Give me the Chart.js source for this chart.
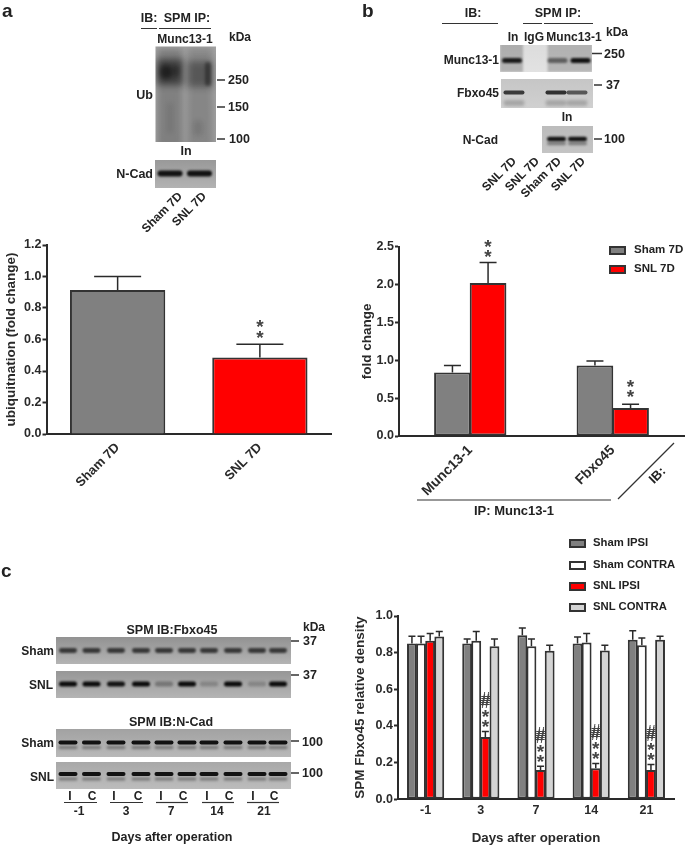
<!DOCTYPE html>
<html>
<head>
<meta charset="utf-8">
<title>Fbxo45 Munc13-1</title>
<script src="https://cdn.jsdelivr.net/npm/chart.js@4"></script>
<style>
  html, body { margin: 0; padding: 0; background: #fff; }
  #page { position: relative; width: 685px; height: 846px; overflow: hidden; font-family: "Liberation Sans", Arial, sans-serif; font-weight: bold; color: #222; filter: blur(0.3px); }
  #page canvas { position: absolute; }
  .lbl { position: absolute; white-space: nowrap; line-height: 1; }
  .swatch { position: absolute; box-sizing: border-box; border: 2px solid #333; }
</style>
</head>
<body>
<div id="page">
  <canvas id="blots" width="685" height="846" style="left:0px;top:0px"></canvas>
  <canvas id="chartA" width="340" height="290" style="left:0px;top:235px"></canvas>
  <canvas id="chartB" width="340" height="290" style="left:345px;top:236px"></canvas>
  <canvas id="chartC" width="340" height="240" style="left:345px;top:606px"></canvas>
</div>
<script>
/* PANEL A */
var categoriesA = ["Sham 7D", "SNL 7D"];
var valuesA = [0.915, 0.485];
var errorTopsA = [1.0, 0.57];
var ticksA = [0, 0.2, 0.4, 0.6, 0.8, 1.0, 1.2];

/* PANEL B */
var categoriesB = ["Munc13-1", "Fbxo45"];
var shamB = [0.84, 0.93];
var shamTopsB = [0.93, 0.99];
var snlB = [2.02, 0.37];
var snlTopsB = [2.29, 0.42];
var ticksB = [0, 0.5, 1.0, 1.5, 2.0, 2.5];

/* PANEL C */
var categoriesC = ["-1", "3", "7", "14", "21"];
var shamIpsi = [0.85, 0.85, 0.895, 0.85, 0.87];
var shamIpsiTops = [0.89, 0.875, 0.935, 0.885, 0.92];
var shamContra = [0.85, 0.865, 0.835, 0.855, 0.84];
var shamContraTops = [0.89, 0.915, 0.875, 0.905, 0.88];
var snlIpsi = [0.865, 0.34, 0.16, 0.17, 0.16];
var snlIpsiTops = [0.905, 0.37, 0.18, 0.195, 0.19];
var snlContra = [0.888, 0.835, 0.81, 0.812, 0.87];
var snlContraTops = [0.915, 0.875, 0.84, 0.84, 0.89];
var ticksC = [0, 0.2, 0.4, 0.6, 0.8, 1.0];

var GRAY = "#808080", RED = "#ff0000", LIGHT = "#d4d4d4", WHITE = "#ffffff", INK = "#2a2a2a";
var FONT = "'Liberation Sans', Arial, sans-serif";

var errorBarPlugin = {
  id: "errorBars",
  afterDatasetsDraw: function (chart, args, opts) {
    var ctx = chart.ctx, y = chart.scales.y;
    ctx.save();
    chart.data.datasets.forEach(function (ds, i) {
      chart.getDatasetMeta(i).data.forEach(function (bar, j) {
        var top = y.getPixelForValue(ds.tops[j]);
        ctx.strokeStyle = INK;
        ctx.lineWidth = 1.5;
        ctx.beginPath();
        ctx.moveTo(bar.x, y.getPixelForValue(ds.data[j]));
        ctx.lineTo(bar.x, top);
        ctx.moveTo(bar.x - opts.cap, top);
        ctx.lineTo(bar.x + opts.cap, top);
        ctx.stroke();
        var marks = ds.marks && ds.marks[j];
        if (!marks) return;
        ctx.fillStyle = "#444";
        ctx.textAlign = "center";
        ctx.textBaseline = "middle";
        marks.forEach(function (m) {
          ctx.font = m.weight + " " + m.size + "px " + FONT;
          ctx.fillText(m.text, bar.x, top - m.up);
        });
      });
    });
    ctx.restore();
  }
};

function fixedTicks(list) {
  return function (scale) {
    scale.ticks = list.map(function (v) { return { value: v }; });
  };
}

function makeChart(id, cfg) {
  return new Chart(document.getElementById(id), {
    type: "bar",
    data: { labels: cfg.labels, datasets: cfg.datasets },
    plugins: [errorBarPlugin],
    options: {
      responsive: false,
      animation: false,
      layout: { padding: cfg.padding },
      plugins: { legend: { display: false }, tooltip: { enabled: false }, errorBars: { cap: cfg.cap } },
      scales: {
        x: {
          afterFit: function (s) { s.height = cfg.xHeight; },
          grid: { drawOnChartArea: false, drawTicks: false },
          border: { color: INK, width: 2 },
          ticks: { autoSkip: false, minRotation: cfg.rotation, maxRotation: cfg.rotation, padding: cfg.xPad, color: INK, font: { family: FONT, weight: "bold", size: cfg.xSize } },
          title: cfg.xTitle ? { display: true, text: cfg.xTitle, color: INK, padding: { top: 0, bottom: 0 }, font: { family: FONT, weight: "bold", size: 13.3 } } : { display: false }
        },
        y: {
          min: 0,
          max: cfg.yTicks[cfg.yTicks.length - 1],
          afterFit: function (s) { s.width = cfg.yWidth; },
          afterBuildTicks: fixedTicks(cfg.yTicks),
          grid: { drawOnChartArea: false, tickLength: 4, tickColor: INK, tickWidth: 2 },
          border: { color: INK, width: 2 },
          ticks: { padding: 1, color: INK, font: { family: FONT, weight: "bold", size: 12.5 }, callback: function (v) { return v.toFixed(1); } },
          title: { display: true, text: cfg.yTitle, color: INK, padding: cfg.yTitlePad, font: { family: FONT, weight: "bold", size: 13.5 } }
        }
      }
    }
  });
}

function barSet(label, values, tops, color, extra) {
  var ds = { label: label, data: values, tops: tops, backgroundColor: color, borderColor: "#333", borderWidth: 2, borderSkipped: false };
  for (var k in extra) ds[k] = extra[k];
  return ds;
}

function twoStars(a, b) {
  return [{ text: "*", size: 19, weight: "bold", up: a }, { text: "*", size: 19, weight: "bold", up: b }];
}
function starsAndHash() {
  return twoStars(4, 14).concat([
    { text: "#", size: 17, weight: "normal", up: 28 }, { text: "#", size: 17, weight: "normal", up: 30 }, { text: "#", size: 17, weight: "normal", up: 32 }
  ]);
}

makeChart("chartA", {
  labels: categoriesA,
  datasets: [{
    label: "Ub", data: valuesA, tops: errorTopsA, marks: [null, twoStars(5, 16)],
    backgroundColor: [GRAY, RED], borderColor: "#333", borderWidth: 2, barPercentage: 0.67, categoryPercentage: 1
  }],
  padding: { top: 10, right: 9, left: 0, bottom: 0 },
  xHeight: 91, yWidth: 46.5, rotation: 45, xPad: 6, xSize: 13, cap: 23.5,
  yTitle: "ubiquitnation (fold change)", yTitlePad: { top: 3, bottom: 0 },
  yTicks: ticksA
});

makeChart("chartB", {
  labels: categoriesB,
  datasets: [
    barSet("Sham 7D", shamB, shamTopsB, GRAY, { barPercentage: 1.03, categoryPercentage: 0.5 }),
    barSet("SNL 7D", snlB, snlTopsB, RED, { barPercentage: 1.03, categoryPercentage: 0.5, marks: [twoStars(5, 15), twoStars(6, 16)] })
  ],
  padding: { top: 10.7, right: 1, left: 0, bottom: 0 },
  xHeight: 90, yWidth: 54, rotation: 45, xPad: 6, xSize: 14, cap: 8.5,
  yTitle: "fold change", yTitlePad: { top: 14, bottom: 0 },
  yTicks: ticksB
});

makeChart("chartC", {
  labels: categoriesC,
  datasets: [
    barSet("Sham IPSI", shamIpsi, shamIpsiTops, GRAY, { barPercentage: 1.08, categoryPercentage: 0.66 }),
    barSet("Sham CONTRA", shamContra, shamContraTops, WHITE, { barPercentage: 1.08, categoryPercentage: 0.66 }),
    barSet("SNL IPSI", snlIpsi, snlIpsiTops, RED, { barPercentage: 1.08, categoryPercentage: 0.66, marks: [null, starsAndHash(), starsAndHash(), starsAndHash(), starsAndHash()] }),
    barSet("SNL CONTRA", snlContra, snlContraTops, LIGHT, { barPercentage: 1.08, categoryPercentage: 0.66 })
  ],
  padding: { top: 10, right: 11, left: 0, bottom: 0 },
  xHeight: 46.7, yWidth: 53, rotation: 0, xPad: 4, xSize: 12.5, cap: 3.5,
  yTitle: "SPM Fbxo45 relative density", yTitlePad: { top: 7, bottom: 0 },
  xTitle: "Days after operation",
  yTicks: ticksC
});

/* HTML labels */
var page = document.getElementById("page");
function txt(s, x, y, size, anchor, rot) {
  var d = document.createElement("div");
  d.className = "lbl";
  d.textContent = s;
  var tx = anchor === "r" ? "-100%" : anchor === "c" ? "-50%" : "0";
  var ox = anchor === "r" ? "100%" : anchor === "c" ? "50%" : "0";
  d.style.left = x + "px";
  d.style.top = y + "px";
  d.style.fontSize = (size || 12) + "px";
  d.style.transformOrigin = ox + " 50%";
  d.style.transform = "translate(" + tx + ",-50%) rotate(" + (rot || 0) + "deg)";
  page.appendChild(d);
}

txt("a", 2, 10, 19, "l"); txt("b", 362, 10, 19, "l"); txt("c", 1, 570, 19, "l");

// panel a blot labels
txt("IB:", 149, 18, 12.5, "c"); txt("SPM IP:", 187, 18, 12.5, "c");
txt("Munc13-1", 185, 39, 12, "c"); txt("kDa", 229, 37, 12, "l");
txt("Ub", 153, 95, 12.5, "r"); txt("In", 186, 151, 12.5, "c"); txt("N-Cad", 153, 174, 12.5, "r");
txt("250", 228, 80, 12.5, "l"); txt("150", 228, 107, 12.5, "l"); txt("100", 229, 139, 12.5, "l");
txt("Sham 7D", 180, 194, 12, "r", -45); txt("SNL 7D", 204, 194, 12, "r", -45);

// panel b blot labels
txt("IB:", 473, 13, 12.5, "c"); txt("SPM IP:", 558, 13, 12.5, "c");
txt("In", 513, 37, 12, "c"); txt("IgG", 534, 37, 12, "c"); txt("Munc13-1", 574, 37, 12, "c"); txt("kDa", 606, 32, 12, "l");
txt("Munc13-1", 499, 60, 12, "r"); txt("Fbxo45", 499, 93, 12, "r"); txt("N-Cad", 498, 140, 12, "r"); txt("In", 567, 117, 12, "c");
txt("250", 604, 54, 12.5, "l"); txt("37", 606, 85, 12.5, "l"); txt("100", 604, 139, 12.5, "l");
txt("SNL 7D", 514, 159, 12, "r", -45); txt("SNL 7D", 537, 159, 12, "r", -45);
txt("Sham 7D", 559, 159, 12, "r", -45); txt("SNL 7D", 583, 159, 12, "r", -45);
txt("IP: Munc13-1", 514, 510, 13, "c"); txt("IB:", 657, 475, 13, "c", -45);

// panel c blot labels
txt("SPM IB:Fbxo45", 172, 630, 12.5, "c"); txt("SPM IB:N-Cad", 171, 722, 12.5, "c");
txt("kDa", 303, 627, 12, "l"); txt("37", 303, 641, 12.5, "l"); txt("37", 303, 675, 12.5, "l");
txt("100", 302, 742, 12.5, "l"); txt("100", 302, 773, 12.5, "l");
txt("Sham", 54, 651, 12, "r"); txt("SNL", 53, 685, 12, "r"); txt("Sham", 54, 743, 12, "r"); txt("SNL", 54, 777, 12, "r");
var dayX = [79, 126, 171, 217, 264];
var lettersX = [[70, 92], [114, 138], [161, 183], [207, 229], [253, 274]];
categoriesC.forEach(function (d, i) {
  txt(d, dayX[i], 811, 12, "c");
  txt("I", lettersX[i][0], 796, 12, "c");
  txt("C", lettersX[i][1], 796, 12, "c");
});
txt("Days after operation", 172, 837, 12.5, "c");

/* legends */
function legend(names, colors, swatchX, textX, rows, w, h, size) {
  names.forEach(function (n, i) {
    var s = document.createElement("div");
    s.className = "swatch";
    s.style.cssText = "left:" + swatchX + "px;top:" + (rows[i] - h / 2) + "px;width:" + w + "px;height:" + h + "px;background:" + colors[i];
    page.appendChild(s);
    txt(n, textX, rows[i], size, "l");
  });
}
legend(["Sham 7D", "SNL 7D"], [GRAY, RED], 609, 634, [250, 269], 17, 9, 11.5);
legend(["Sham IPSI", "Sham CONTRA", "SNL IPSI", "SNL CONTRA"], [GRAY, WHITE, RED, LIGHT], 569, 593, [543, 565, 586, 607], 17, 9, 11.3);

/* western blot images, painted by hand */
var b = document.getElementById("blots").getContext("2d");

function rule(x1, y1, x2, y2, w) {
  b.strokeStyle = "#333";
  b.lineWidth = w || 1;
  b.beginPath();
  b.moveTo(x1, y1);
  b.lineTo(x2, y2);
  b.stroke();
}

function blot(x, y, w, h, topColor, bottomColor, bands) {
  var g = b.createLinearGradient(0, y, 0, y + h);
  g.addColorStop(0, topColor);
  g.addColorStop(1, bottomColor);
  b.save();
  b.filter = "blur(0.6px)";
  b.fillStyle = g;
  b.fillRect(x, y, w, h);
  b.beginPath();
  b.rect(x, y, w, h);
  b.clip();
  bands.forEach(function (k) {
    b.filter = "blur(" + (k.blur || 1) + "px)";
    b.fillStyle = "rgba(" + (k.c || "10,10,10") + "," + k.a + ")";
    b.beginPath();
    if (k.sq) b.rect(k.x - k.w / 2, k.y - k.h / 2, k.w, k.h);
    else b.roundRect(k.x - k.w / 2, k.y - k.h / 2, k.w, k.h, k.h / 2);
    b.fill();
  });
  b.restore();
}

function lanes(centers, y, w, h, alphas, blur) {
  return centers.map(function (c, i) {
    return { x: c, y: y, w: w, h: h, a: alphas === +alphas ? alphas : alphas[i], blur: blur };
  });
}

// panel a
rule(141, 28.5, 157, 28.5); rule(159, 28.5, 211, 28.5);
blot(155.5, 46.5, 60.5, 95.5, "#a4a4a4", "#a0a0a0", [
  { x: 170, y: 98, w: 25, h: 100, a: 0.22, blur: 3, sq: true },
  { x: 200, y: 98, w: 25, h: 100, a: 0.18, blur: 3, sq: true },
  { x: 170, y: 72, w: 26, h: 26, a: 0.55, blur: 3.5, sq: true },
  { x: 200, y: 74, w: 25, h: 26, a: 0.38, blur: 3.5, sq: true },
  { x: 166, y: 72, w: 13, h: 14, a: 0.6, blur: 2.5 },
  { x: 176, y: 71, w: 8, h: 10, a: 0.3, blur: 2 },
  { x: 208, y: 74, w: 6, h: 24, a: 0.45, blur: 1.5 },
  { x: 170, y: 118, w: 6, h: 30, a: 0.08, blur: 2 },
  { x: 198, y: 128, w: 10, h: 16, a: 0.1, blur: 2 }
]);
blot(155, 160, 61, 28, "#999999", "#b2b2b2", lanes([170, 199.5], 173.5, 25, 6, 0.95, 0.9));
rule(217, 80, 225, 80, 1.5); rule(217, 107, 225, 107, 1.5); rule(217, 139, 225, 139, 1.5);

// panel b
rule(442, 23.5, 498, 23.5); rule(523, 23.5, 542, 23.5); rule(544, 23.5, 593, 23.5);
blot(500, 45, 92, 27, "#dcdcdc", "#e2e2e2", [
  { x: 511.5, y: 55, w: 23, h: 34, a: 0.22, blur: 1.2, sq: true },
  { x: 570, y: 55, w: 45, h: 34, a: 0.2, blur: 1.2, sq: true }
].concat(lanes([512, 557.5, 580.5], 60.5, 20, 5, [0.9, 0.5, 0.95], 0.9)));
blot(501, 79, 92, 29, "#c6c6c6", "#d0d0d0", lanes([514, 556, 577], 92.5, 21, 3.8, [0.75, 0.8, 0.6], 0.7)
  .concat(lanes([514, 556, 577], 103, 21, 6, 0.2, 1.5)));
blot(542, 126, 51, 27, "#bcbcbc", "#c4c4c4", lanes([556.5, 577.5], 139, 19, 4.5, 0.95, 0.8)
  .concat(lanes([556.5, 577.5], 143.5, 19, 3.5, 0.35, 1)));
rule(592, 53.5, 602, 53.5, 1.5); rule(594, 85, 602, 85, 1.5); rule(594, 139, 602, 139, 1.5);
rule(417, 500, 611, 500, 1.2); rule(618, 499, 674, 443, 1.2);

// panel c
var laneC = [68, 91.5, 116, 141, 164, 187, 209, 233, 257, 278];
var snlAlphas = [1, 1, 0.95, 1, 0.3, 1, 0.2, 1, 0.2, 1];
blot(56, 637, 235, 27, "#929292", "#b4b4b4", lanes(laneC, 650.5, 18, 4.8, 0.7, 1));
blot(56, 671, 235, 27, "#979797", "#b4b4b4", lanes(laneC, 684, 18, 5, snlAlphas, 0.9));
blot(56, 729, 235, 28, "#a2a2a2", "#b8b8b8", lanes(laneC, 742.5, 19, 3.8, 0.95, 0.7).concat(lanes(laneC, 747.5, 19, 3.5, 0.3, 1)));
blot(56, 762, 235, 27, "#a8a8a8", "#bcbcbc", lanes(laneC, 774, 19, 3.8, 0.95, 0.7).concat(lanes(laneC, 779, 19, 3.5, 0.3, 1)));
rule(291, 641, 299, 641, 1.5); rule(291, 675, 299, 675, 1.5); rule(291, 741, 299, 741, 1.5); rule(291, 773, 299, 773, 1.5);
[[64, 97], [110, 143], [156, 188], [202, 234], [247, 279]].forEach(function (u) {
  rule(u[0], 802.5, u[1], 802.5, 1.2);
});
</script>
</body>
</html>
